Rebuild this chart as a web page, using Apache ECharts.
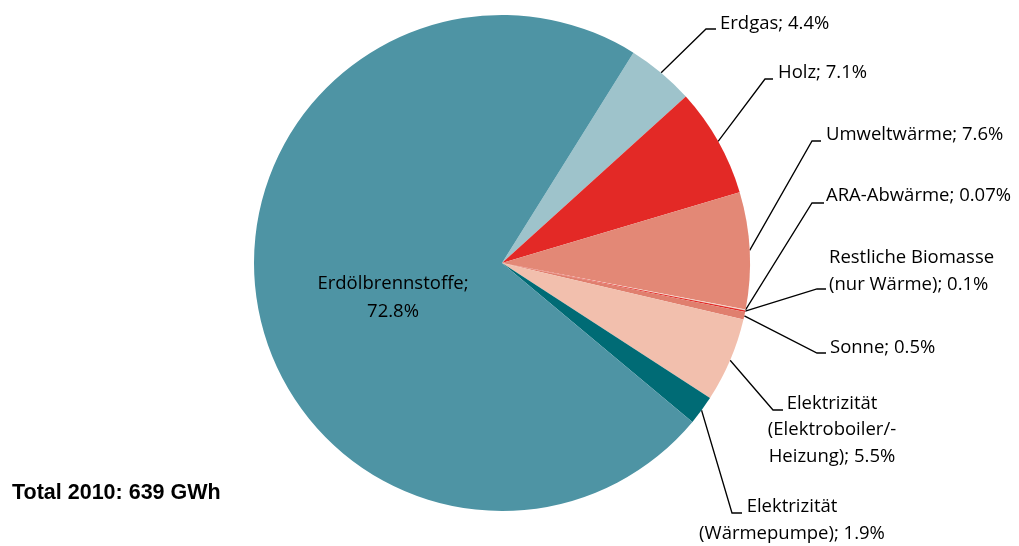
<!DOCTYPE html>
<html><head><meta charset="utf-8">
<script src="https://cdn.jsdelivr.net/npm/echarts@6/dist/echarts.min.js"></script>
<style>html,body{margin:0;padding:0;background:#fff}#c{width:1019px;height:546px}</style>
</head><body><div id="c"></div>
<script>
const categories = ['Erdgas','Holz','Umweltwärme','ARA-Abwärme','Restliche Biomasse\n(nur Wärme)','Sonne','Elektrizität\n(Elektroboiler/-\nHeizung)','Elektrizität\n(Wärmepumpe)','Erdölbrennstoffe'];
const values = [4.4, 7.1, 7.6, 0.07, 0.1, 0.5, 5.5, 1.9, 72.8];
const valueLabels = ['4.4%','7.1%','7.6%','0.07%','0.1%','0.5%','5.5%','1.9%','72.8%'];
const colors = ['#9EC3CB','#E32926','#E38876','#F6D3C7','#E32926','#E07F6E','#F2BFAD','#006B75','#4E94A4'];
const totalText = 'Total 2010: 639 GWh';

// label anchor placements (text position, line end)
const labelPlacement = [
  {x:720, y:24, align:'left', line:[[706,29],[716,29]]},
  {x:778, y:73, align:'left', line:[[765,79],[773,79]]},
  {x:826, y:135, align:'left', line:[[812,141],[821,141]]},
  {x:826, y:196, align:'left', line:[[812,203],[824,203]]},
  {x:829, y:271, align:'left', line:[[817,289],[826,289]]},
  {x:830, y:348, align:'left', line:[[817,353],[826,353]]},
  {x:832, y:430, align:'center', line:[[773,410],[783,410]]},
  {x:792, y:520, align:'center', line:[[732,513],[742,513]]},
  {x:393, y:298, align:'center', line:null}
];

const chart = echarts.init(document.getElementById('c'));
const data = categories.map((n,i)=>{
  const item = {name:n, value:values[i], itemStyle:{color:colors[i]},
    label:{formatter: n + '; ' + valueLabels[i]}};
  if (i === 8) {
    item.label = {position:'inside', formatter: n + ';\n' + valueLabels[i], lineHeight:28};
    item.labelLine = {show:false};
  }
  return item;
});
chart.setOption({
  animation:false,
  graphic:[{type:'text', left:12, top:482, style:{text:totalText, font:'bold 21.5px "Liberation Sans", Arial, sans-serif', fill:'#000'}}],
  series:[{
    type:'pie',
    center:[502,263],
    radius:248,
    startAngle:58,
    clockwise:true,
    data:data,
    avoidLabelOverlap:false,
    label:{show:true, color:'#000', fontSize:18.5, lineHeight:26.5, fontFamily:'"Open Sans", sans-serif'},
    labelLine:{show:true, length:10, length2:10, lineStyle:{color:'#000', width:1.3}},
    labelLayout:function(p){
      const pl = labelPlacement[p.dataIndex];
      const r = {x:pl.x, y:pl.y, align:pl.align, verticalAlign:'middle'};
      if (pl.line && p.labelLinePoints) {
        r.labelLinePoints = [p.labelLinePoints[0], pl.line[0], pl.line[1]];
      }
      return r;
    }
  }]
});
</script></body></html>
